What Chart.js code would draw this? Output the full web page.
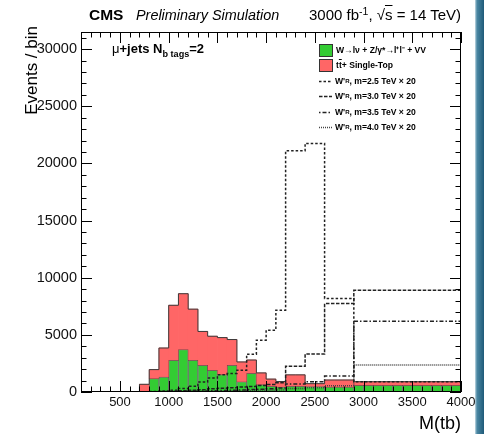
<!DOCTYPE html>
<html>
<head>
<meta charset="utf-8">
<title>M(tb)</title>
<script src="https://cdn.jsdelivr.net/npm/chart.js@4.4.0/dist/chart.umd.min.js"></script>
<style>
  body { margin: 0; background: #fff; }
  #wrap { position: relative; width: 484px; height: 434px; overflow: hidden;
          font-family: "Liberation Sans", Arial, sans-serif; color: #000; }
  #chart { position: absolute; left: 0; top: 0; }
  .txt { position: absolute; white-space: nowrap; line-height: 1; }
  sub { font-size: 0.7em; vertical-align: -0.45em; line-height: 0; }
  sup { font-size: 0.7em; vertical-align: 0.5em; line-height: 0; }
  .leg { position: absolute; left: 319px; height: 12px; display: flex; align-items: center;
         font-size: 8.6px; font-weight: bold; white-space: nowrap; }
  .leg .box { width: 12px; height: 11px; border: 1px solid #333; margin-right: 3px; }
  .leg svg { margin-right: 3px; }
  #strip { position: absolute; left: 475px; top: 0; width: 9px; height: 434px;
           background: linear-gradient(to right, #c4dbe5 0, #4a87a3 2px, #1f5a78 100%); }
</style>
</head>
<body>
<div id="wrap">
  <canvas id="chart" width="484" height="434"></canvas>

  <div class="txt" style="left:89px; top:7px; font-size:15.5px; font-weight:bold;">CMS</div>
  <div class="txt" style="left:136px; top:8px; font-size:14.4px; font-style:italic;">Preliminary Simulation</div>
  <div class="txt" style="left:309px; top:7px; font-size:15px;">3000 fb<sup>-1</sup>, √<span style="text-decoration:overline">s</span> = 14 TeV)</div>

  <div class="txt" style="left:112px; top:42px; font-size:13px; font-weight:bold;"><span style="font-weight:normal">μ</span>+jets N<sub>b tags</sub>=2</div>

  <div class="leg" style="top:44px;"><div class="box" style="background:#33cc33"></div>W→lν + Z/γ*→l⁺l⁻ + VV</div>
  <div class="leg" style="top:59px;"><div class="box" style="background:#ff6666"></div>t<span style="text-decoration:overline">t</span> + Single-Top</div>
  <div class="leg" style="top:75px;"><svg width="13" height="3"><line x1="0" y1="1.5" x2="13" y2="1.5" stroke="#222" stroke-width="1.5" stroke-dasharray="2.5 2"/></svg>W'<sub>R</sub>, m=2.5 TeV × 20</div>
  <div class="leg" style="top:90px;"><svg width="13" height="3"><line x1="0" y1="1.5" x2="13" y2="1.5" stroke="#222" stroke-width="1.5" stroke-dasharray="3.5 1.5"/></svg>W'<sub>R</sub>, m=3.0 TeV × 20</div>
  <div class="leg" style="top:106px;"><svg width="13" height="3"><line x1="0" y1="1.5" x2="13" y2="1.5" stroke="#222" stroke-width="1.5" stroke-dasharray="1.5 2 4 2"/></svg>W'<sub>R</sub>, m=3.5 TeV × 20</div>
  <div class="leg" style="top:121px;"><svg width="13" height="3"><line x1="0" y1="1.5" x2="13" y2="1.5" stroke="#444" stroke-width="1.5" stroke-dasharray="1 1"/></svg>W'<sub>R</sub>, m=4.0 TeV × 20</div>

  <div class="txt" style="left:23px; top:176px; width:150px; text-align:right; font-size:17px;
       transform-origin:left top; transform:rotate(-90deg);">Events / bin</div>
  <div class="txt" style="right:23px; top:414px; font-size:18px;">M(tb)</div>

  <div id="strip"></div>
</div>

<script>
// background stack, 100 GeV bins (lower edges)
const bkgBinLow = [700, 800, 900, 1000, 1100, 1200, 1300, 1400, 1500, 1600, 1700,
  1800, 1900, 2000, 2100, 2200, 2300, 2400, 2500, 2600, 2700, 2800, 2900, 3000,
  3100, 3200, 3300, 3400, 3500, 3600, 3700, 3800, 3900];
const bkgBinWidth = 100;
const wzvv = [0, 1170, 1310, 2780, 3710, 2780, 2340, 1900, 1520, 2340, 900,
  1640, 650, 500, 440, 500, 500, 480, 480, 420, 420, 420, 580, 580,
  580, 580, 580, 580, 580, 580, 580, 580, 580];
const ttbarSingleTop = [675, 790, 2540, 4810, 4890, 4470, 2960, 2980, 3240, 2250, 1730,
  1160, 1020, 630, 480, 1000, 1000, 250, 250, 630, 630, 630, 320, 320,
  320, 320, 320, 320, 320, 320, 320, 320, 320];

// W'_R signals (x20), coarser bins above 2.2 TeV
const sigEdges = [800, 900, 1000, 1100, 1200, 1300, 1400, 1500, 1600, 1700, 1800,
  1900, 2000, 2100, 2200, 2400, 2600, 2900, 4000];
const wp2500 = [50, 80, 150, 300, 500, 880, 1230, 1520, 1610, 1900, 3300,
  4530, 5400, 7150, 21100, 21750, 8180, 900];
const wp3000 = [20, 40, 60, 100, 150, 200, 280, 330, 380, 430, 480,
  560, 650, 800, 2250, 3330, 7740, 8900];
const wp3500 = [10, 20, 30, 50, 70, 90, 110, 130, 150, 180, 210,
  250, 290, 340, 700, 900, 1400, 6200];
const wp4000 = [5, 10, 15, 25, 35, 45, 55, 65, 80, 95, 110,
  130, 150, 180, 300, 380, 550, 2360];

const xTicks = [500, 1000, 1500, 2000, 2500, 3000, 3500, 4000];
const yTicks = [0, 5000, 10000, 15000, 20000, 25000, 30000];

// histogram outline: value of bin i held from edges[i] to edges[i+1]
function stepPoints(edges, values) {
  const pts = values.map((v, i) => ({ x: edges[i], y: v }));
  pts.push({ x: edges[edges.length - 1], y: values[values.length - 1] });
  return pts;
}

const bkgEdges = bkgBinLow.concat([bkgBinLow[bkgBinLow.length - 1] + bkgBinWidth]);
const stackTotal = wzvv.map((v, i) => v + ttbarSingleTop[i]);
const totalOutline = [{ x: bkgEdges[0], y: 0 }].concat(stepPoints(bkgEdges, stackTotal));

function signal(values, dash, color, key) {
  return {
    type: 'line', data: stepPoints(sigEdges, values), stack: key,
    stepped: 'before', borderColor: color, borderWidth: 1.5, borderDash: dash,
    pointRadius: 0, fill: false
  };
}

// inward ticks on all four sides, ROOT style frame
const frameTicks = {
  id: 'frameTicks',
  afterDatasetsDraw(chart) {
    const { ctx, chartArea: a, scales: { x, y } } = chart;
    ctx.save();
    ctx.strokeStyle = '#000';
    ctx.lineWidth = 1;
    ctx.beginPath();
    for (let v = 100; v <= 4000; v += 100) {
      const px = Math.round(x.getPixelForValue(v)) + 0.5;
      const len = v % 500 === 0 ? 11 : 5.5;
      ctx.moveTo(px, a.bottom); ctx.lineTo(px, a.bottom - len);
      ctx.moveTo(px, a.top); ctx.lineTo(px, a.top + len);
    }
    for (let v = 0; v <= 31000; v += 1000) {
      const py = Math.round(y.getPixelForValue(v)) + 0.5;
      const len = v % 5000 === 0 ? 11 : 5.5;
      ctx.moveTo(a.left, py); ctx.lineTo(a.left + len, py);
      ctx.moveTo(a.right, py); ctx.lineTo(a.right - len, py);
    }
    ctx.stroke();
    ctx.strokeRect(Math.round(a.left) + 0.5, Math.round(a.top) + 0.5,
      Math.round(a.width) - 1, Math.round(a.height) - 1);
    ctx.restore();
  }
};

const ctx = document.getElementById('chart').getContext('2d');
const chart = new Chart(ctx, {
  type: 'bar',
  data: {
    datasets: [
      signal(wp2500, [2.5, 2], '#222', 's25'),
      signal(wp3000, [3.5, 1.5], '#222', 's30'),
      signal(wp3500, [4, 2, 1.5, 2], '#222', 's35'),
      signal(wp4000, [1, 1], '#444', 's40'),
      {
        type: 'line', data: totalOutline, stack: 'outline', stepped: 'before',
        borderColor: '#3a3a3a', borderWidth: 1, pointRadius: 0, fill: false
      },
      {
        label: 'W, Z, VV',
        data: bkgBinLow.map((lo, i) => ({ x: lo + bkgBinWidth / 2, y: wzvv[i] })),
        backgroundColor: '#33cc33', borderColor: 'rgba(30, 30, 30, 0.55)', borderWidth: 1,
        categoryPercentage: 1, barPercentage: 1
      },
      {
        label: 'ttbar + single top',
        data: bkgBinLow.map((lo, i) => ({ x: lo + bkgBinWidth / 2, y: ttbarSingleTop[i] })),
        backgroundColor: '#ff6666', borderWidth: 0,
        categoryPercentage: 1, barPercentage: 1
      }
    ]
  },
  options: {
    responsive: false,
    devicePixelRatio: 1,
    animation: false,
    layout: { padding: { left: 0, top: 32, right: 23, bottom: 0 } },
    plugins: { legend: { display: false }, tooltip: { enabled: false } },
    scales: {
      x: {
        type: 'linear', min: 100, max: 4000, offset: false, stacked: true,
        grid: { display: false, drawTicks: false }, border: { display: false },
        afterBuildTicks: s => { s.ticks = xTicks.map(v => ({ value: v })); },
        afterFit: s => { s.height = 42; },
        ticks: { padding: 3, color: '#111', font: { family: 'Liberation Sans', size: 13 },
                 maxRotation: 0, callback: v => String(v) }
      },
      y: {
        min: 0, max: 31500, stacked: true,
        grid: { display: false, drawTicks: false }, border: { display: false },
        afterBuildTicks: s => { s.ticks = yTicks.map(v => ({ value: v })); },
        afterFit: s => { s.width = 81; },
        ticks: { padding: 4, color: '#111', font: { family: 'Liberation Sans', size: 14.5 },
                 callback: v => String(v) }
      }
    }
  },
  plugins: [frameTicks]
});
</script>
</body>
</html>
